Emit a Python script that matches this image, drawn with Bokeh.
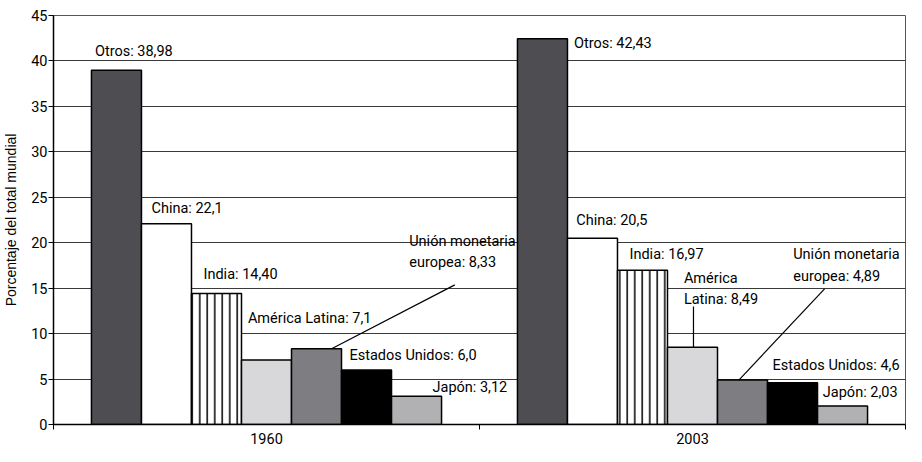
from bokeh.plotting import figure
from bokeh.models import ColumnDataSource, FixedTicker, Label, Range1d
from bokeh.embed import file_html
from bokeh.resources import INLINE

# ---------------- data ----------------
years = ["1960", "2003"]
regions = ["Otros", "China", "India", "América Latina",
           "Unión monetaria europea", "Estados Unidos", "Japón"]
values_1960 = [38.98, 22.1, 14.40, 7.1, 8.33, 6.0, 3.12]
values_2003 = [42.43, 20.5, 16.97, 8.49, 4.89, 4.6, 2.03]
value_text_1960 = ["38,98", "22,1", "14,40", "7,1", "8,33", "6,0", "3,12"]
value_text_2003 = ["42,43", "20,5", "16,97", "8,49", "4,89", "4,6", "2,03"]
names_1960 = ["Otros", "China", "India", "América Latina",
              "Unión monetaria\neuropea", "Estados Unidos", "Japón"]
names_2003 = ["Otros", "China", "India", "América\nLatina",
              "Unión monetaria\neuropea", "Estados Unidos", "Japón"]
y_ticks = [0, 5, 10, 15, 20, 25, 30, 35, 40, 45]

# ---------------- styles ----------------
fills = ["#4e4d52", "#ffffff", "#ffffff", "#d8d8da", "#7e7d82", "#000000", "#b1b1b4"]
hatches = [" ", " ", "|", " ", " ", " ", " "]
BAR_W = 0.1174
FONT = "Roboto"
FS = "14.5px"

# label offsets (px) from each bar's top-left corner
off_1960 = [(3.5, 27.7), (10, 23.7), (12, 28), (6.4, 50), (117.7, 116), (8, 22.5), (41, 17)]
off_2003 = [(56.5, 3.8), (8.8, 26.5), (12, 24), (16.4, 77.5), (75.7, 133.8), (5, 25.5), (5.3, 22)]

# leader lines: (year index, region index, start dx, end x, end y)
leaders = [(0, 4, 0.0354, 0.942, 15.36),
           (1, 3, 0.0023, 1.5023, 12.98),
           (1, 4, -0.0086, 1.810, 14.93)]

all_values = [values_1960, values_2003]
all_vtext = [value_text_1960, value_text_2003]
all_names = [names_1960, names_2003]
all_off = [off_1960, off_2003]

xs, tops, fc, hp = [], [], [], []
for i, vals in enumerate(all_values):
    for j, v in enumerate(vals):
        xs.append(i + 0.5 + (j - 3) * BAR_W)
        tops.append(v)
        fc.append(fills[j])
        hp.append(hatches[j])
src = ColumnDataSource(dict(x=xs, top=tops, fill=fc, hatch=hp))

p = figure(width=906, height=446, output_backend="svg", toolbar_location=None,
           x_range=Range1d(0, 2), y_range=Range1d(0, 45),
           min_border_left=52, min_border_right=1, min_border_top=15, min_border_bottom=21)
p.background_fill_color = "white"
p.border_fill_color = "white"
p.outline_line_color = "#555555"
p.outline_line_width = 1

p.vbar(x="x", top="top", bottom=0, width=BAR_W, source=src,
       fill_color="fill", line_color="black", line_width=1.5,
       hatch_pattern="hatch", hatch_color="black", hatch_scale=7.5, hatch_weight=1.5)

# leader lines
lx0, ly0, lx1, ly1 = [], [], [], []
for (i, j, dx, ex, ey) in leaders:
    xc = i + 0.5 + (j - 3) * BAR_W
    lx0.append(xc + dx)
    ly0.append(all_values[i][j])
    lx1.append(ex)
    ly1.append(ey)
p.segment(x0=lx0, y0=ly0, x1=lx1, y1=ly1, line_color="black", line_width=1.2)

# labels
for i in range(len(years)):
    for j in range(len(regions)):
        left = i + 0.5 + (j - 3.5) * BAR_W
        dx, dy = all_off[i][j]
        p.add_layout(Label(x=left, y=all_values[i][j], x_offset=dx, y_offset=dy,
                           text=all_names[i][j] + ": " + all_vtext[i][j],
                           text_font=FONT, text_font_size=FS, text_color="black",
                           text_align="left", text_baseline="top",
                           text_line_height=1.25))

# axes
p.yaxis.ticker = FixedTicker(ticks=y_ticks)
p.ygrid.ticker = FixedTicker(ticks=y_ticks)
p.ygrid.grid_line_color = "#3a3a3a"
p.ygrid.grid_line_width = 1
p.xgrid.grid_line_color = None

p.yaxis.axis_label = "Porcentaje del total mundial"
p.yaxis.axis_label_text_font = "Liberation Sans"
p.yaxis.axis_label_text_font_style = "normal"
p.yaxis.axis_label_text_font_size = "14px"
p.yaxis.axis_label_text_color = "black"
p.yaxis.axis_label_standoff = 9
p.yaxis.major_label_text_font = FONT
p.yaxis.major_label_text_font_size = FS
p.yaxis.major_label_text_color = "black"
p.yaxis.major_label_standoff = 1
p.yaxis.major_tick_out = 5
p.yaxis.major_tick_in = 0
p.yaxis.minor_tick_line_color = None
p.yaxis.axis_line_width = 1.5
p.yaxis.axis_line_color = "black"
p.yaxis.major_tick_line_color = "black"

p.xaxis.ticker = FixedTicker(ticks=[k + 0.5 for k in range(len(years))],
                             minor_ticks=list(range(len(years) + 1)))
p.xaxis.major_label_overrides = {k + 0.5: y for k, y in enumerate(years)}
p.xaxis.major_tick_out = 0
p.xaxis.major_tick_in = 0
p.xaxis.minor_tick_out = 5
p.xaxis.minor_tick_in = 0
p.xaxis.minor_tick_line_color = "black"
p.xaxis.major_label_text_font = FONT
p.xaxis.major_label_text_font_size = FS
p.xaxis.major_label_text_color = "black"
p.xaxis.major_label_standoff = 3
p.xaxis.axis_line_width = 1.5
p.xaxis.axis_line_color = "black"

open("out.html", "w").write(file_html(p, INLINE))
